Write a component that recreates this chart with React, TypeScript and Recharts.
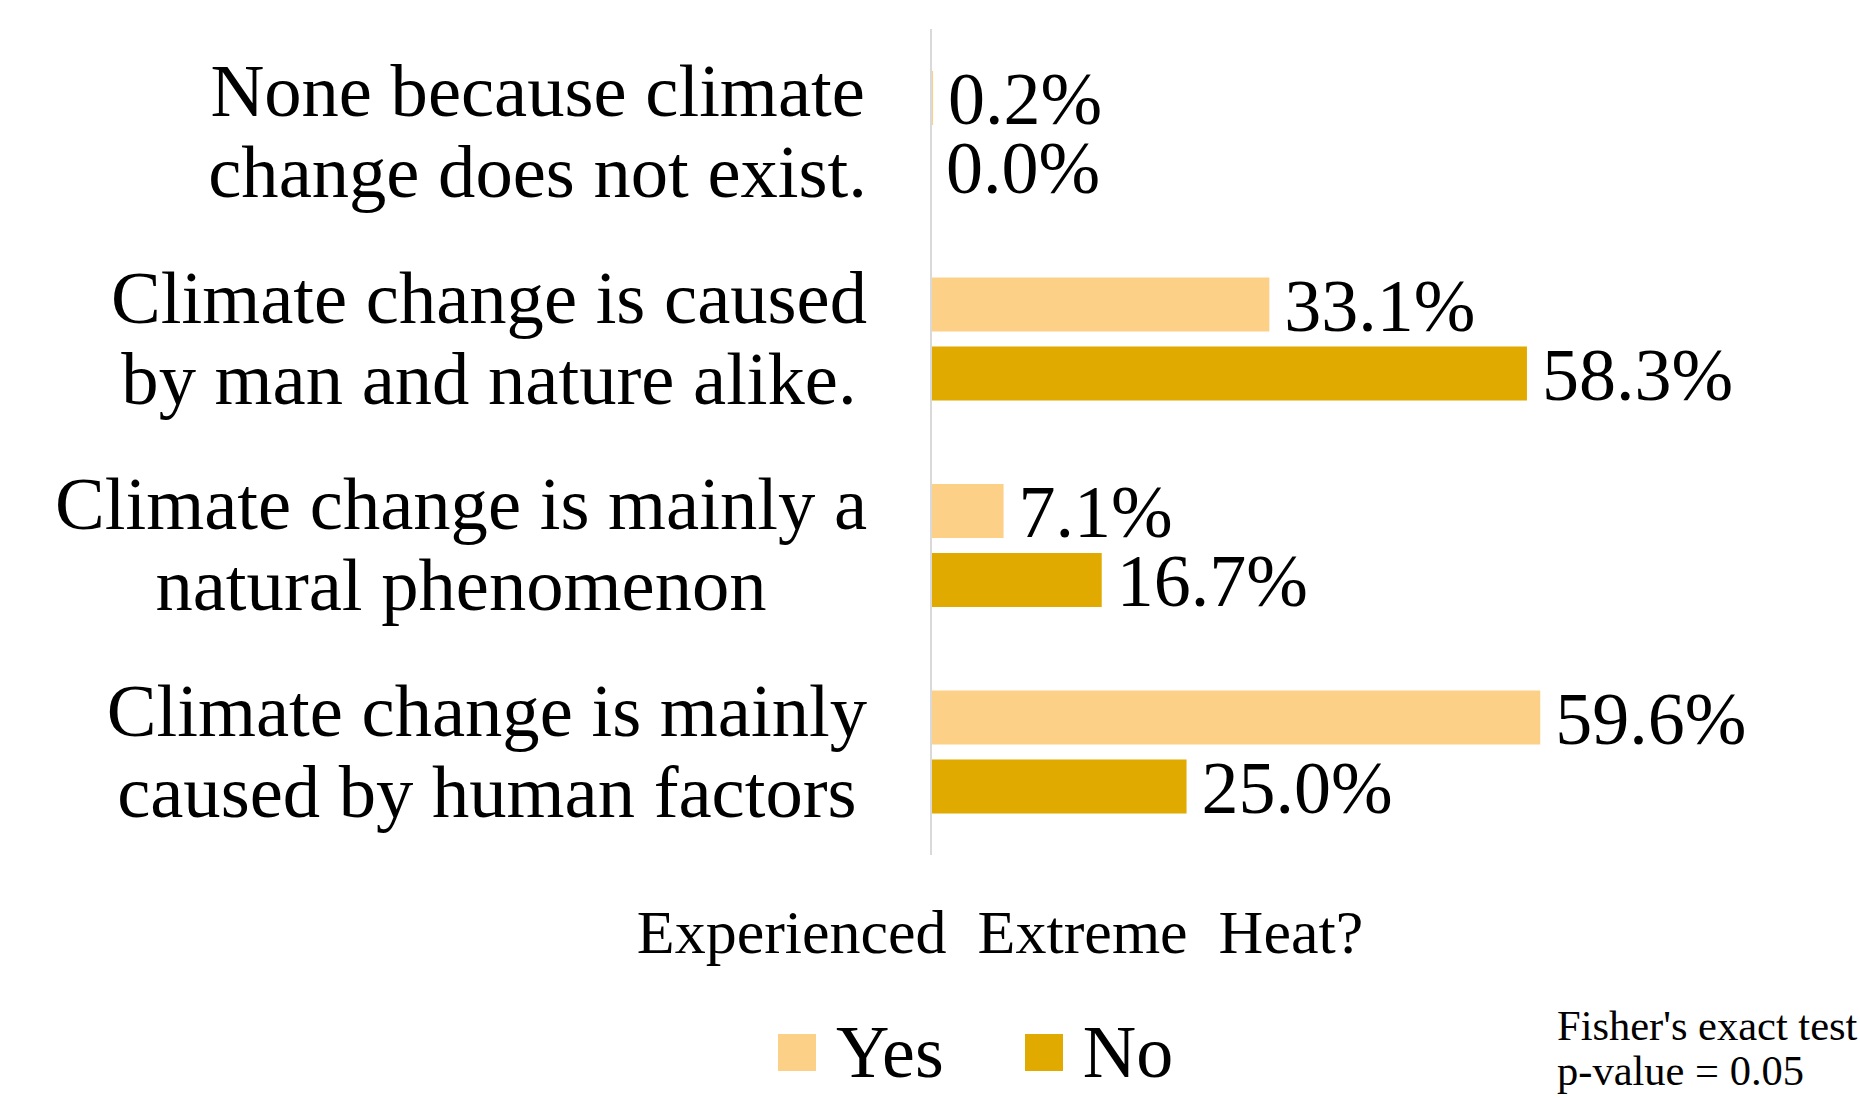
import React from 'react';
import { BarChart, Bar, XAxis, YAxis, LabelList } from 'recharts';

const categories = [
  'None because climate\nchange does not exist.',
  'Climate change is caused\nby man and nature alike.',
  'Climate change is mainly a\nnatural phenomenon',
  'Climate change is mainly\ncaused by human factors',
];
const yesValues = [0.2, 33.1, 7.1, 59.6];
const noValues = [0.0, 58.3, 16.7, 25.0];
const seriesList = [
  { key: 'yes', name: 'Yes', color: '#FDD088' },
  { key: 'no', name: 'No', color: '#E0AA00' },
];
const legendTitle = 'Experienced  Extreme  Heat?';
const noteLines = ["Fisher's exact test", 'p-value = 0.05'];

const data = categories.map((c, i) => ({ name: c, yes: yesValues[i], no: noValues[i] }));

const FONT = '"Liberation Serif", "Times New Roman", serif';
const TICK_FS = 74.6;

let ctx: CanvasRenderingContext2D | null = null;
const measure = (t: string, font: string) => {
  if (!ctx) ctx = document.createElement('canvas').getContext('2d');
  if (!ctx) return t.length * 30;
  ctx.font = font;
  return ctx.measureText(t).width;
};

const CategoryTick = (props: any) => {
  const { x, y, payload } = props;
  const lines: string[] = String(payload.value).split('\n');
  const maxW = Math.max(...lines.map((l) => measure(l, `${TICK_FS}px ${FONT}`)));
  const cx = x - maxW / 2;
  return (
    <text x={cx} y={y} textAnchor="middle" fontFamily={FONT} fontSize={TICK_FS} fill="#000">
      {lines.map((l, i) => (
        <tspan key={i} x={cx} y={y + (i === 0 ? -16 : 65)}>
          {l}
        </tspan>
      ))}
    </text>
  );
};

const fmt = (v: any) => `${Number(v).toFixed(1)}%`;

const ValueLabel = (props: any) => {
  const { x, y, width, height, value, viewBox } = props;
  const vb = viewBox || { x, y, width, height };
  const bx = Number(vb.x) + Math.max(0, Number(vb.width || 0));
  const by = Number(vb.y) + Number(vb.height || 0) / 2;
  if (!isFinite(bx) || !isFinite(by)) return null;
  return (
    <text x={bx + 15} y={by} dy="0.355em" textAnchor="start" fontFamily={FONT} fontSize={74} fill="#000">
      {fmt(value)}
    </text>
  );
};

// keeps zero-valued bars (and their labels) in the layout without a visible width
const keepZero = (v: any) => (Number(v) === 0 ? 0.01 : 0);

export default function App() {
  return (
    <div style={{ position: 'absolute', left: 0, top: 0, width: 1860, height: 1098, background: '#fff', fontFamily: FONT, overflow: 'hidden' }}>
      <BarChart
        width={1860}
        height={1098}
        data={data}
        layout="vertical"
        margin={{ top: 29, right: 9, bottom: 243, left: 0 }}
        barSize={54}
        barGap={15}
      >
        <XAxis type="number" domain={[0, 90]} hide />
        <YAxis
          type="category"
          dataKey="name"
          width={931}
          axisLine={{ stroke: '#d9d9d9', strokeWidth: 2 }}
          tickLine={false}
          tickSize={0}
          tickMargin={64}
          tick={<CategoryTick />}
          interval={0}
        />
        {seriesList.map((s) => (
          <Bar key={s.key} dataKey={s.key} name={s.name} fill={s.color} minPointSize={keepZero} isAnimationActive={false}>
            <LabelList dataKey={s.key} content={<ValueLabel />} />
          </Bar>
        ))}
      </BarChart>
      <div
        style={{
          position: 'absolute',
          left: 600,
          width: 800,
          top: 901,
          textAlign: 'center',
          fontSize: 62,
          lineHeight: '62px',
          whiteSpace: 'pre',
          color: '#000',
        }}
      >
        {legendTitle}
      </div>
      <div
        style={{
          position: 'absolute',
          left: 778,
          top: 1015,
          height: 74,
          display: 'flex',
          alignItems: 'center',
          fontSize: 74,
          lineHeight: '74px',
          color: '#000',
        }}
      >
        {seriesList.map((s, i) => (
          <div key={s.key} style={{ display: 'flex', alignItems: 'center', marginLeft: i === 0 ? 0 : 81 }}>
            <div style={{ width: 38, height: 37, background: s.color, marginRight: 20 }} />
            <span>{s.name}</span>
          </div>
        ))}
      </div>
      <div
        style={{
          position: 'absolute',
          left: 1557,
          top: 1003,
          fontSize: 42.5,
          lineHeight: '45px',
          whiteSpace: 'pre',
          color: '#000',
        }}
      >
        {noteLines.map((l, i) => (
          <div key={i}>{l}</div>
        ))}
      </div>
    </div>
  );
}
